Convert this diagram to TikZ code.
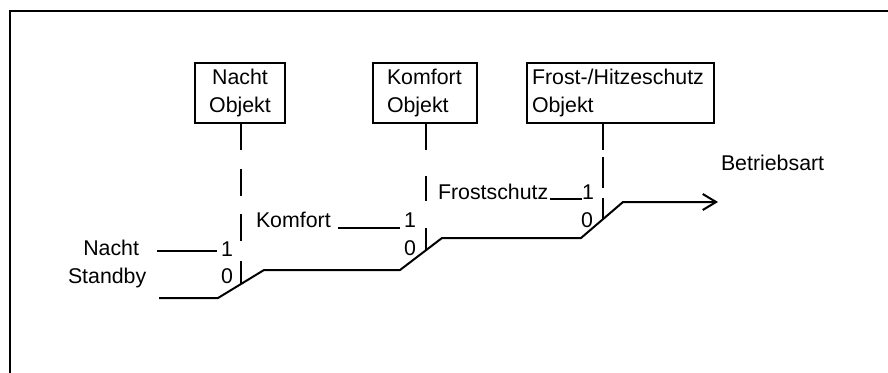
\documentclass[tikz,border=0pt]{standalone}
\usepackage{fontspec}
\setmainfont{Liberation Sans}
\usetikzlibrary{arrows.meta}
\begin{document}
\begin{tikzpicture}[x=0.75pt,y=-0.75pt,
  line width=1.5pt,
  obox/.style={draw, line width=1.5pt, minimum height=45pt, inner sep=0pt,
    font=\fontsize{16}{21}\selectfont},
  lbl/.style={inner sep=0pt, font=\fontsize{16}{18}\selectfont},
  sig/.style={line width=1.5pt, line join=miter},
  lvl/.style={line width=1.5pt},
  frame/.style={line width=1.5pt}]
\useasboundingbox (0,0) rectangle (888,372);
% frame
\draw[frame] (10,380) -- (10,10.5) -- (895,10.5);
% boxes
\node[obox, minimum width=67.5pt, text width=60pt, align=center] (nb) at (240,93) {Nacht\\Objekt};
\node[obox, minimum width=78pt, text width=57pt, align=left] (kb) at (425,93) {Komfort\\Objekt};
\node[obox, minimum width=140.25pt, text width=132.75pt, align=left] (fb) at (620.5,93) {Frost-/Hitzeschutz\\Objekt};
% signal line
\coordinate (s0) at (159,298);
\coordinate (s1) at (218,298);
\coordinate (s2) at (264,270);
\coordinate (s3) at (400,270);
\coordinate (s4) at (442,238);
\coordinate (s5) at (581,238);
\coordinate (s6) at (623,202);
\coordinate (s7) at (718,202);
\draw[sig, -{Straight Barb[length=10pt,width=12pt,line width=1.5pt]}] (s0) -- (s1) -- (s2) -- (s3) -- (s4) -- (s5) -- (s6) -- (s7);
% dashed links
\coordinate (nr) at (241,284);
\coordinate (kr) at (426,250);
\coordinate (fr) at (603,219);
\draw[lvl, dash pattern=on 19.5pt off 14.25pt on 20.25pt off 13.5pt on 20.25pt off 15pt on 20pt off 10pt] (nb.south -| nr) -- (nr);
\draw[lvl, dash pattern=on 19.5pt off 19.5pt on 18.75pt off 20.25pt on 20pt off 10pt] (kb.south -| kr) -- (kr);
\draw[lvl, dash pattern=on 19.5pt off 5.25pt on 23.25pt off 7.5pt on 20pt off 10pt] (fb.south -| fr) -- (fr);
% labels
\node[lbl, anchor=base east] (ln) at (140,255) {Nacht};
\node[lbl, anchor=base west] (ls) at (67,283) {Standby};
\node[lbl] (n1) at (227,249) {1};
\node[lbl] (n0) at (227,276) {0};
\node[lbl, anchor=base west] (lk) at (255,227) {Komfort};
\node[lbl] (k1) at (410,220) {1};
\node[lbl] (k0) at (410,248) {0};
\node[lbl, anchor=base west] (lf) at (437,199) {Frostschutz};
\node[lbl] (f1) at (588,192) {1};
\node[lbl] (f0) at (587,220) {0};
\node[lbl, anchor=base west] (lb) at (720,170) {Betriebsart};
% level-1 stubs
\coordinate (na) at (157,251);
\coordinate (nbb) at (217,251);
\draw[lvl] (na) -- (nbb);
\coordinate (ka) at (338,228);
\coordinate (kbb) at (400,228);
\draw[lvl] (ka) -- (kbb);
\coordinate (fa) at (550,199);
\coordinate (fbb) at (582,199);
\draw[lvl] (fa) -- (fbb);
\end{tikzpicture}
\end{document}
